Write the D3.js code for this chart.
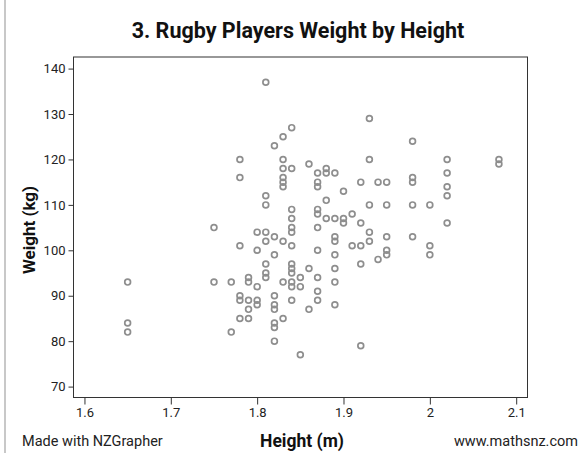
<!DOCTYPE html>
<html><head><meta charset="utf-8">
<script src="https://cdn.jsdelivr.net/npm/d3@7"></script>
<style>body{margin:0;background:#fff}svg{display:block;font-family:Roboto,sans-serif}</style>
</head><body>
<svg id="c" width="581" height="453"></svg>
<script>
const heights = [
1.65,1.65,1.65,
1.75,1.75,
1.77,1.77,
1.78,1.78,1.78,1.78,1.78,1.78,
1.79,1.79,1.79,1.79,1.79,
1.80,1.80,1.80,1.80,1.80,
1.81,1.81,1.81,1.81,1.81,1.81,1.81,1.81,
1.82,1.82,1.82,1.82,1.82,1.82,1.82,1.82,1.82,
1.83,1.83,1.83,1.83,1.83,1.83,1.83,1.83,1.83,
1.84,1.84,1.84,1.84,1.84,1.84,1.84,1.84,1.84,1.84,1.84,1.84,1.84,
1.85,1.85,1.85,
1.86,1.86,1.86,
1.87,1.87,1.87,1.87,1.87,1.87,1.87,1.87,1.87,1.87,
1.88,1.88,1.88,1.88,
1.89,1.89,1.89,1.89,1.89,1.89,1.89,1.89,
1.90,1.90,1.90,
1.91,1.91,
1.92,1.92,1.92,1.92,1.92,
1.93,1.93,1.93,1.93,1.93,
1.94,1.94,
1.95,1.95,1.95,1.95,1.95,
1.98,1.98,1.98,1.98,1.98,
2.00,2.00,2.00,
2.02,2.02,2.02,2.02,2.02,
2.08,2.08];
const weights = [
93,84,82,
105,93,
93,82,
120,116,101,90,89,85,
94,93,89,87,85,
104,100,92,89,88,
137,112,110,104,102,97,95,94,
123,103,99,90,88,87,84,83,80,
125,120,118,116,115,114,102,93,85,
127,118,109,107,105,104,101,97,96,95,93,92,89,
94,92,77,
119,96,87,
117,115,114,109,108,105,100,94,91,89,
118,117,111,107,
117,107,103,102,99,96,93,88,
113,107,106,
108,101,
115,106,101,97,79,
129,120,110,104,102,
115,98,
115,110,103,100,99,
124,116,115,110,103,
110,101,99,
120,117,114,112,106,
120,119];
const xTicks = [1.6,1.7,1.8,1.9,2,2.1];
const yTicks = [70,80,90,100,110,120,130,140];
const title = "3. Rugby Players Weight by Height";
const xLabel = "Height (m)";
const yLabel = "Weight (kg)";

const svg = d3.select("#c");
const L = 73.5, R = 527.5, T = 57, B = 397.5;
const x = d3.scaleLinear().domain([1.5873, 2.1131]).range([L, R]);
const y = d3.scaleLinear().domain([67.6, 142.55]).range([B, T]);

svg.append("line").attr("x1",5).attr("x2",5).attr("y1",0).attr("y2",453)
  .attr("stroke","#c8c8c8").attr("stroke-width",2);

svg.append("rect").attr("x",L).attr("y",T).attr("width",R-L).attr("height",B-T)
  .attr("fill","none").attr("stroke","#333").attr("stroke-width",1);

const xa = svg.append("g").attr("transform",`translate(0,${B})`)
  .call(d3.axisBottom(x).tickValues(xTicks).tickSize(7).tickPadding(3).tickFormat(d3.format("")));
const ya = svg.append("g").attr("transform",`translate(${L},0)`)
  .call(d3.axisLeft(y).tickValues(yTicks).tickSize(5).tickPadding(3));
[xa,ya].forEach(a=>{
  a.select(".domain").remove();
  a.selectAll(".tick line").attr("stroke","#333");
  a.selectAll("text").attr("fill","#222").style("font-size","13px").style("font-family","Roboto, sans-serif");
});

svg.append("g").selectAll("circle").data(heights.map((h,i)=>[h,weights[i]])).join("circle")
  .attr("cx",d=>x(d[0])).attr("cy",d=>y(d[1])).attr("r",2.9)
  .attr("fill","none").attr("stroke","#8e8e8e").attr("stroke-width",1.7);

svg.append("text").attr("x",298).attr("y",38).attr("text-anchor","middle")
  .style("font-size","21.5px").style("font-weight","bold").attr("fill","#111").text(title);
svg.append("text").attr("x",302).attr("y",447).attr("text-anchor","middle")
  .style("font-size","17.5px").style("font-weight","bold").attr("fill","#111").text(xLabel);
svg.append("text").attr("transform","translate(35,230) rotate(-90)").attr("text-anchor","middle")
  .style("font-size","17px").style("font-weight","bold").attr("fill","#111").text(yLabel);
svg.append("text").attr("x",22).attr("y",446).style("font-size","14.5px").attr("fill","#222").text("Made with NZGrapher");
svg.append("text").attr("x",578).attr("y",446).attr("text-anchor","end").style("font-size","14.5px").attr("fill","#222").text("www.mathsnz.com");
</script>
</body></html>
